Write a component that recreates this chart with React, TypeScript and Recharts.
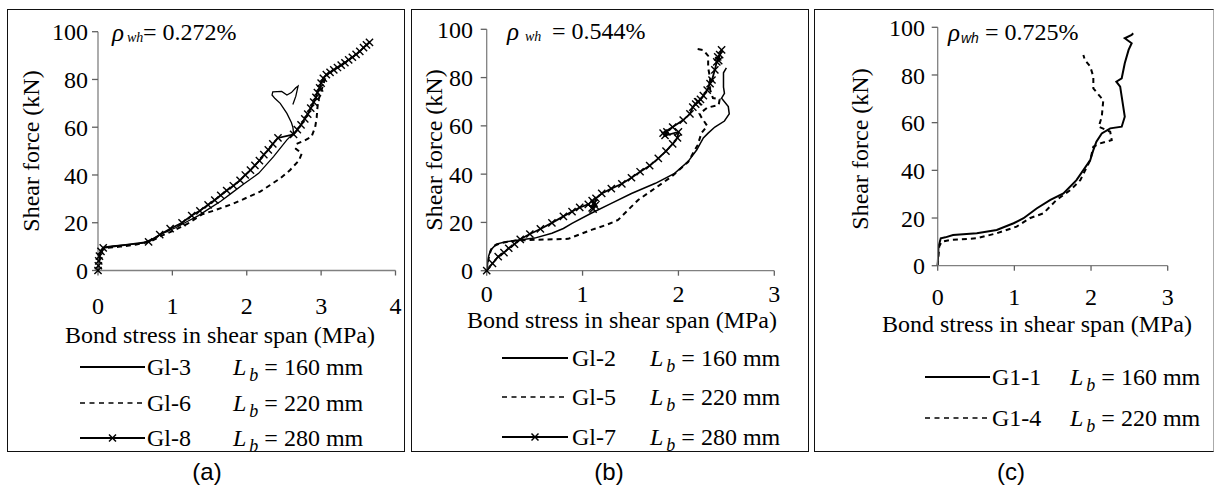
import React from 'react';
import { LineChart, Line, XAxis, YAxis } from 'recharts';

type P = { x: number; y: number };
const pts = (a: number[][]): P[] => a.map(([x, y]) => ({ x, y }));

// ---------- tick labels ----------
const yTicks = [0, 20, 40, 60, 80, 100];
const xTicksA = [0, 1, 2, 3, 4];
const xTicksB = [0, 1, 2, 3];
const xTicksC = [0, 1, 2, 3];

// ---------- panel (a) rho_wh = 0.272% ----------
const g13 = pts([
  [0, 0], [0.01, 3], [0.02, 6], [0.04, 8.5], [0.08, 9.8], [0.2, 10.3], [0.4, 10.8], [0.6, 11.5],
  [0.75, 13.5], [0.9, 16], [1.05, 18], [1.2, 20.5], [1.35, 23], [1.5, 26], [1.65, 29], [1.8, 32.5],
  [1.95, 36], [2.16, 40.7], [2.36, 47.7], [2.54, 54.7], [2.63, 57.5], [2.62, 60], [2.6, 62],
  [2.54, 65.8], [2.45, 70], [2.38, 72], [2.34, 73.5], [2.35, 74.8], [2.47, 75], [2.54, 73.5],
  [2.6, 74.5], [2.66, 76.5], [2.69, 77.2], [2.66, 73], [2.62, 69.5],
]);
const g16 = pts([
  [0, 0], [0.01, 3], [0.03, 6], [0.06, 8.5], [0.12, 9.5], [0.3, 10], [0.5, 10.8], [0.7, 12],
  [0.85, 14.5], [1.0, 16.5], [1.2, 19.5], [1.4, 23.5], [1.55, 25], [1.82, 28], [2.18, 33],
  [2.45, 38.6], [2.58, 42], [2.7, 46], [2.74, 49], [2.66, 51], [2.67, 53], [2.78, 54.5],
  [2.87, 56], [2.92, 60], [2.94, 64], [2.95, 68], [2.96, 71], [3.0, 75], [3.04, 79], [3.06, 81],
]);
const g18 = pts([
  [0, 0], [0.005, 2], [0.01, 4], [0.02, 6], [0.04, 8], [0.07, 9.5], [0.68, 12], [0.83, 15],
  [0.97, 17.5], [1.13, 20], [1.26, 23], [1.37, 25], [1.48, 27.5], [1.57, 29.5], [1.65, 31.5],
  [1.73, 33.5], [1.82, 35.5], [1.91, 37.8], [1.98, 40], [2.05, 42], [2.11, 44], [2.17, 46],
  [2.23, 48.5], [2.29, 50.5], [2.35, 53], [2.42, 55.5], [2.63, 57], [2.68, 59], [2.73, 61],
  [2.78, 63.5], [2.82, 65.5], [2.86, 68], [2.9, 70.5], [2.93, 72.5], [2.95, 74.5], [2.98, 76.5],
  [3.0, 78.5], [3.03, 80.5], [3.07, 82], [3.12, 83], [3.17, 84], [3.22, 85], [3.27, 86],
  [3.32, 87], [3.37, 88.2], [3.42, 89.3], [3.47, 90.5], [3.52, 91.8], [3.57, 93.3], [3.61, 94.5],
  [3.65, 95.5],
]);

// ---------- panel (b) rho_wh = 0.544% ----------
const g12 = pts([
  [0, 0], [0.01, 3], [0.02, 6], [0.04, 8.5], [0.1, 11], [0.2, 12], [0.36, 12.8], [0.5, 13.5],
  [0.68, 15.5], [0.8, 17.5], [0.89, 19.6], [1.09, 23.8], [1.3, 27.9], [1.51, 32], [1.76, 36.2],
  [1.96, 40.3], [2.1, 45.2], [2.19, 50], [2.26, 55], [2.31, 57], [2.38, 59.5], [2.48, 62],
  [2.53, 65], [2.52, 68], [2.45, 71.5], [2.48, 73.5], [2.47, 76], [2.47, 82], [2.5, 84],
]);
const g15 = pts([
  [0, 0], [0.01, 3], [0.03, 7], [0.06, 10], [0.15, 11.5], [0.3, 12.5], [0.5, 12.8], [0.7, 13],
  [0.85, 13.2], [1.0, 15.5], [1.1, 17], [1.25, 19], [1.37, 21], [1.44, 23.8], [1.58, 29.3],
  [1.75, 34], [1.93, 39], [2.1, 45], [2.2, 52], [2.24, 57], [2.3, 60], [2.24, 63.5], [2.22, 65],
  [2.3, 67.5], [2.42, 68.7], [2.43, 71], [2.36, 71.5], [2.33, 75], [2.33, 80], [2.31, 84],
  [2.31, 89], [2.26, 91.4], [2.17, 92],
]);
const g17 = pts([
  [0, 0], [0.06, 3], [0.12, 5.8], [0.18, 7.5], [0.23, 9.3], [0.29, 11], [0.35, 13], [0.45, 15.2],
  [0.56, 17.3], [0.68, 19.8], [0.8, 22.5], [0.89, 24.5], [0.97, 26.2], [1.06, 27.5], [1.1, 26],
  [1.12, 28], [1.1, 29], [1.13, 27], [1.11, 25.5], [1.14, 30], [1.2, 32], [1.3, 34], [1.41, 36],
  [1.51, 38.5], [1.6, 41], [1.7, 43.5], [1.79, 46.5], [1.87, 49.5], [1.94, 52.5], [1.99, 55],
  [2.0, 57.5], [1.86, 56], [1.88, 57.5], [1.84, 57], [1.94, 59.5], [2.05, 62.4], [2.12, 65],
  [2.15, 67.8], [2.2, 70], [2.18, 69], [2.23, 71], [2.21, 70], [2.26, 72.5], [2.3, 74.8],
  [2.33, 77.5], [2.35, 79], [2.38, 83.2], [2.4, 86.5], [2.41, 88.6], [2.42, 87], [2.43, 89.5],
  [2.45, 91.5],
]);

// ---------- panel (c) rho_wh = 0.725% ----------
const g11 = pts([
  [0, 0], [0.01, 8], [0.04, 11.5], [0.1, 11.9], [0.2, 12.9], [0.51, 13.6], [0.77, 15],
  [0.99, 17.8], [1.12, 19.9], [1.29, 24], [1.47, 27.6], [1.64, 30.3], [1.81, 35.9], [1.99, 44.3],
  [2.03, 48.5], [2.07, 52], [2.14, 55.5], [2.25, 57.6], [2.4, 58.3], [2.44, 62.5], [2.42, 66.7],
  [2.4, 70.9], [2.38, 75.1], [2.33, 77.2], [2.4, 78.6], [2.44, 84.9], [2.49, 90.5], [2.53, 93.3],
  [2.44, 95.4], [2.53, 96.8], [2.55, 97.5],
]);
const g14 = pts([
  [0, 0], [0.02, 8], [0.05, 10], [0.16, 10.8], [0.51, 11.5], [0.77, 13.6], [1.03, 16.4],
  [1.2, 19.9], [1.38, 22], [1.55, 27.6], [1.73, 31.7], [1.86, 35.9], [1.99, 44.3], [2.03, 49.9],
  [2.12, 51.3], [2.27, 52.7], [2.25, 56.2], [2.1, 58.3], [2.14, 62.5], [2.16, 69.5], [2.12, 70.9],
  [2.03, 74.4], [2.03, 79.3], [1.99, 83.5], [1.92, 86.3], [1.9, 88.4],
]);

// ---------- legend texts ----------
const namesA = ['Gl-3', 'Gl-6', 'Gl-8'];
const namesB = ['Gl-2', 'Gl-5', 'Gl-7'];
const namesC = ['G1-1', 'G1-4'];
const lbA = ['160', '220', '280'];
const lbB = ['160', '220', '280'];
const lbC = ['160', '220'];
const rhoVals = ['0.272%', '0.544%', '0.725%'];

const SERIF = '"Liberation Serif", "Times New Roman", serif';
const SANS = '"Liberation Sans", Arial, sans-serif';

type Kind = 'solid' | 'dash' | 'cross';

const XDot = (props: any) => {
  const { cx, cy, index } = props;
  if (cx == null || cy == null) return <g key={`d${index}`} />;
  const s = 3.6;
  return (
    <g key={`d${index}`}>
      <line x1={cx - s} y1={cy - s} x2={cx + s} y2={cy + s} stroke="#000" strokeWidth={1.4} />
      <line x1={cx - s} y1={cy + s} x2={cx + s} y2={cy - s} stroke="#000" strokeWidth={1.4} />
    </g>
  );
};

type Series = { data: P[]; kind: Kind; width: number };

function Panel(props: {
  box: { x: number; y: number; w: number; h: number };
  margin: { top: number; right: number; bottom: number; left: number };
  xTicks: number[];
  xTickMargin: number;
  yTickMargin: number;
  series: Series[];
}) {
  const { box, margin, xTicks, xTickMargin, yTickMargin, series } = props;
  const tick = { fontSize: 24, fill: '#000', fontFamily: 'Liberation Serif', style: { fontFamily: SERIF } };
  return (
    <div style={{ position: 'absolute', left: box.x, top: box.y, width: box.w, height: box.h, fontFamily: SERIF }}>
      <LineChart width={box.w} height={box.h} margin={margin} style={{ fontFamily: SERIF }}>
        <XAxis
          type="number"
          dataKey="x"
          domain={[0, xTicks[xTicks.length - 1]]}
          ticks={xTicks}
          interval={0}
          height={40}
          tickSize={5}
          tickMargin={xTickMargin}
          axisLine={{ stroke: '#808080', strokeWidth: 1.3 }}
          tickLine={{ stroke: '#606060', strokeWidth: 1.3 }}
          tick={tick}
        />
        <YAxis
          type="number"
          domain={[0, 100]}
          ticks={yTicks}
          interval={0}
          width={60}
          tickSize={6}
          tickMargin={yTickMargin}
          axisLine={{ stroke: '#808080', strokeWidth: 1.3 }}
          tickLine={{ stroke: '#606060', strokeWidth: 1.3 }}
          tick={tick}
        />
        {series.map((s, i) => (
          <Line
            key={i}
            data={s.data}
            dataKey="y"
            type="linear"
            stroke="#000"
            strokeWidth={s.width}
            strokeDasharray={s.kind === 'dash' ? '5 4' : undefined}
            dot={s.kind === 'cross' ? XDot : false}
            activeDot={false}
            isAnimationActive={false}
          />
        ))}
      </LineChart>
    </div>
  );
}

const txt = (left: number, top: number, extra: React.CSSProperties = {}): React.CSSProperties => ({
  position: 'absolute',
  left,
  top,
  transform: 'translateY(-50%)',
  fontFamily: SERIF,
  fontSize: 24,
  lineHeight: 1,
  whiteSpace: 'nowrap',
  color: '#000',
  ...extra,
});

function LegendRow(props: { kind: Kind; x1: number; x2: number; tx: number; lx: number; y: number; name: string; lb: string }) {
  const { kind, x1, x2, tx, lx, y, name, lb } = props;
  const w = x2 - x1;
  return (
    <>
      <svg style={{ position: 'absolute', left: x1, top: y - 6 }} width={w} height={12}>
        <line x1={0} y1={6} x2={w} y2={6} stroke="#000" strokeWidth={kind === 'dash' ? 1.6 : 1.8} strokeDasharray={kind === 'dash' ? '5 4.5' : undefined} />
        {kind === 'cross' && (
          <g>
            <line x1={w / 2 - 3.5} y1={2.5} x2={w / 2 + 3.5} y2={9.5} stroke="#000" strokeWidth={1.5} />
            <line x1={w / 2 - 3.5} y1={9.5} x2={w / 2 + 3.5} y2={2.5} stroke="#000" strokeWidth={1.5} />
          </g>
        )}
      </svg>
      <div style={txt(tx, y)}>{name}</div>
      <div style={txt(lx, y)}>
        <i>L</i>
        <span style={{ fontStyle: 'italic', fontSize: 18, position: 'relative', top: 6, marginLeft: 3 }}>b</span>
        <span> = {lb} mm</span>
      </div>
    </>
  );
}

function Rho(props: { rx: number; wx: number; ex: number; y: number; val: string; sansSub?: boolean }) {
  const { rx, wx, ex, y, val, sansSub } = props;
  return (
    <>
      <div style={txt(rx, y, { fontStyle: 'italic', fontSize: 25 })}>ρ</div>
      <div style={txt(wx, y + 6, { fontStyle: 'italic', fontSize: 14, fontFamily: sansSub ? SANS : SERIF })}>wh</div>
      <div style={txt(ex, y)}>= {val}</div>
    </>
  );
}

function Box(props: { x: number; y: number; w: number; h: number; right?: string }) {
  return (
    <div
      style={{
        position: 'absolute',
        left: props.x,
        top: props.y,
        width: props.w,
        height: props.h,
        boxSizing: 'border-box',
        border: '1.5px solid #111',
        borderRightColor: props.right || '#111',
        pointerEvents: 'none',
      }}
    />
  );
}

const vLabel = (cx: number, cy: number): React.CSSProperties => ({
  position: 'absolute',
  left: cx,
  top: cy,
  transform: 'translate(-50%, -50%) rotate(-90deg)',
  fontFamily: SERIF,
  fontSize: 24,
  lineHeight: 1,
  whiteSpace: 'nowrap',
  color: '#000',
});

const hLabel = (cx: number, cy: number): React.CSSProperties => ({
  position: 'absolute',
  left: cx,
  top: cy,
  transform: 'translate(-50%, -50%)',
  fontFamily: SERIF,
  fontSize: 24,
  lineHeight: 1,
  whiteSpace: 'nowrap',
  color: '#000',
});

const panelLabel = (cx: number, cy: number): React.CSSProperties => ({
  ...hLabel(cx, cy),
  fontFamily: SANS,
  fontSize: 24,
});

export default function App() {
  const XT = 'Bond stress in shear span (MPa)';
  const YT = 'Shear force (kN)';
  return (
    <div style={{ position: 'absolute', left: 0, top: 0, width: 1214, height: 491, background: '#fff', overflow: 'hidden', fontFamily: SERIF }}>
      <Panel
        box={{ x: 7, y: 9, w: 398, h: 442 }}
        margin={{ top: 22.7, right: 9.5, bottom: 140.5, left: 31 }}
        xTicks={xTicksA}
        xTickMargin={21}
        yTickMargin={4}
        series={[
          { data: g13, kind: 'solid', width: 1.3 },
          { data: g16, kind: 'dash', width: 2 },
          { data: g18, kind: 'cross', width: 1.8 },
        ]}
      />
      <Panel
        box={{ x: 411, y: 9, w: 398, h: 442 }}
        margin={{ top: 20.3, right: 34.7, bottom: 140.3, left: 15.7 }}
        xTicks={xTicksB}
        xTickMargin={9}
        yTickMargin={7.7}
        series={[
          { data: g12, kind: 'solid', width: 1.5 },
          { data: g15, kind: 'dash', width: 2 },
          { data: g17, kind: 'cross', width: 1.8 },
        ]}
      />
      <Panel
        box={{ x: 814, y: 9, w: 399, h: 442 }}
        margin={{ top: 18.3, right: 45.3, bottom: 145.3, left: 63.7 }}
        xTicks={xTicksC}
        xTickMargin={17}
        yTickMargin={6.7}
        series={[
          { data: g11, kind: 'solid', width: 2 },
          { data: g14, kind: 'dash', width: 2 },
        ]}
      />

      {/* axis titles */}
      <div style={vLabel(31, 151)}>{YT}</div>
      <div style={vLabel(434, 150)}>{YT}</div>
      <div style={vLabel(860, 149)}>{YT}</div>
      <div style={hLabel(220, 335)}>{XT}</div>
      <div style={hLabel(622, 320)}>{XT}</div>
      <div style={hLabel(1037, 324)}>{XT}</div>

      {/* rho annotations */}
      <Rho rx={112} wx={127} ex={143} y={32} val={rhoVals[0]} />
      <Rho rx={507} wx={525} ex={552} y={31} val={rhoVals[1]} />
      <Rho rx={948} wx={961} ex={985} y={32} val={rhoVals[2]} sansSub />

      {/* legends */}
      {(['solid', 'dash', 'cross'] as Kind[]).map((k, i) => (
        <LegendRow key={`a${i}`} kind={k} x1={80} x2={145} tx={147} lx={233} y={[367, 403, 438][i]} name={namesA[i]} lb={lbA[i]} />
      ))}
      {(['solid', 'dash', 'cross'] as Kind[]).map((k, i) => (
        <LegendRow key={`b${i}`} kind={k} x1={502} x2={568} tx={572} lx={650} y={[358, 397, 437][i]} name={namesB[i]} lb={lbB[i]} />
      ))}
      {(['solid', 'dash'] as Kind[]).map((k, i) => (
        <LegendRow key={`c${i}`} kind={k} x1={925} x2={990} tx={992} lx={1070} y={[377, 418][i]} name={namesC[i]} lb={lbC[i]} />
      ))}

      <Box x={7} y={9} w={398} h={443} />
      <Box x={411} y={9} w={398} h={443} />
      <Box x={814} y={9} w={400} h={443} right="#aaa" />

      <div style={panelLabel(207, 472)}>(a)</div>
      <div style={panelLabel(609, 472)}>(b)</div>
      <div style={panelLabel(1011, 472)}>(c)</div>
    </div>
  );
}
